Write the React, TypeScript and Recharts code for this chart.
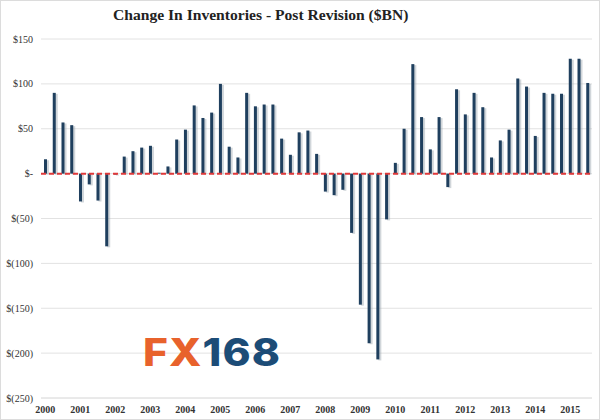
import React from 'react';
import { BarChart, Bar, XAxis, YAxis, CartesianGrid, ReferenceLine } from 'recharts';

// Quarterly change in private inventories, $BN (2000 Q1 - 2015 Q3)
const years = ['2000', '2001', '2002', '2003', '2004', '2005', '2006', '2007', '2008', '2009', '2010', '2011', '2012', '2013', '2014', '2015'];
const quarterNames = ['Q1', 'Q2', 'Q3', 'Q4'];
const values = [
  16, 90, 57, 54,
  -31, -12, -30, -81,
  -1, 19, 25, 29,
  31, 1, 8, 38,
  49, 76, 62, 68,
  100, 30, 18, 90,
  75, 77, 77, 39,
  21, 46, 48, 22,
  -20, -24, -18, -66,
  -146, -189, -207, -51,
  12, 50, 122, 63,
  27, 63, -15, 94,
  66, 90, 74, 18,
  37, 49, 106, 97,
  42, 90, 89, 89,
  128, 128, 101,
];
const yTicks = [150, 100, 50, 0, -50, -100, -150, -200, -250];

const categories = years.flatMap((y) => quarterNames.map((q) => `${y} ${q}`)).slice(0, values.length);
const data = categories.map((c, i) => ({ quarter: c, value: values[i] }));

const fmtDollar = (v: number) => {
  if (v === 0) return '$-';
  if (v < 0) return `$(${Math.abs(v)})`;
  return `$${v}`;
};

// bar with a soft drop shadow to the right, like the Excel original
const ShadowBar = (props: any) => {
  const { x, y, width, height } = props;
  if (!height) return null;
  const top = height < 0 ? y + height : y;
  const h = Math.abs(height);
  return (
    <g>
      <rect x={x + 2} y={top + 1} width={width} height={h} fill="#9aa3ad" opacity={0.45} />
      <rect x={x} y={top} width={width} height={h} fill="#1f3f5e" />
    </g>
  );
};

const App: React.FC = () => (
  <div style={{ position: 'absolute', left: 0, top: 0, width: 600, height: 420, background: '#fff', boxSizing: 'border-box', border: '1px solid #dcdcdc' }}>
    <div style={{ position: 'absolute', left: 0, top: 0 }}>
      <BarChart width={600} height={420} data={data} margin={{ top: 38, right: 9, bottom: 0, left: 0 }} barCategoryGap={0}>
        <CartesianGrid vertical={false} stroke="#e2e2e2" />
        <XAxis
          dataKey="quarter"
          interval={3}
          height={23}
          tickLine={false}
          axisLine={{ stroke: '#e2e2e2' }}
          tickFormatter={(v: string) => v.slice(0, 4)}
          tick={{ fontFamily: 'Liberation Serif', fontSize: 10, fontWeight: 'bold', fill: '#333' }}
        />
        <YAxis
          domain={[-250, 150]}
          ticks={yTicks}
          width={40}
          tickLine={false}
          axisLine={false}
          tickFormatter={fmtDollar}
          tick={{ fontFamily: 'Liberation Serif', fontSize: 10, fill: '#333' }}
        />
        <Bar dataKey="value" barSize={3} shape={<ShadowBar />} isAnimationActive={false} />
        <ReferenceLine y={0} stroke="#e0393a" strokeWidth={2} strokeDasharray="5 3" />
      </BarChart>
    </div>
    <div style={{ position: 'absolute', left: 112, top: 5, fontFamily: 'Liberation Serif', fontWeight: 'bold', fontSize: 15.6, color: '#222', whiteSpace: 'nowrap' }}>
      Change In Inventories - Post Revision ($BN)
    </div>
    <div style={{ position: 'absolute', left: 142, top: 329, fontFamily: 'Inter', fontWeight: 800, fontSize: 38, letterSpacing: 1, lineHeight: '44px', whiteSpace: 'nowrap', transform: 'scaleX(1.12)', transformOrigin: 'left top' }}>
      <span style={{ color: '#e8622c' }}>FX</span>
      <span style={{ color: '#1c4c77' }}>168</span>
    </div>
  </div>
);

export default App;
